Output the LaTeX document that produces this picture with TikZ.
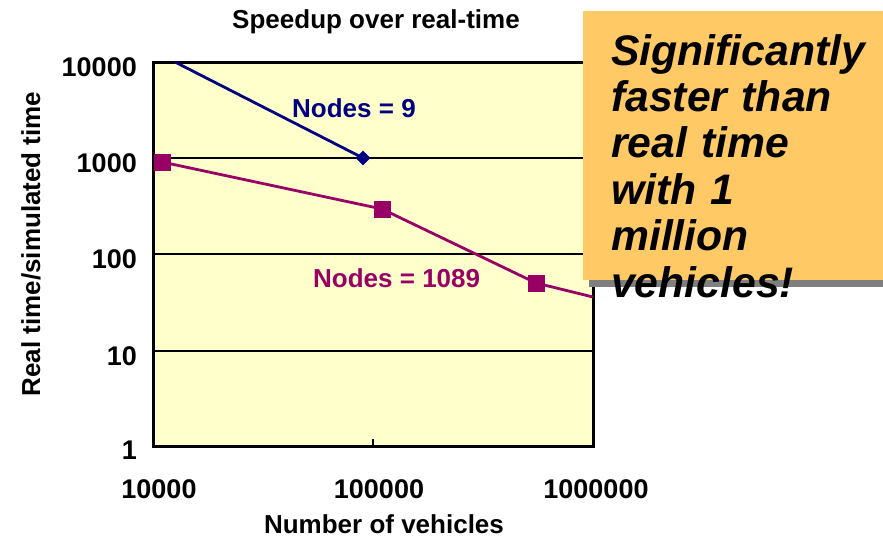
\documentclass[tikz,border=0pt]{standalone}
\usepackage{fontspec}
\setmainfont{Liberation Sans}
\usetikzlibrary{shapes.geometric}
\definecolor{plotbg}{HTML}{FFFFCC}
\definecolor{navyline}{HTML}{000080}
\definecolor{plum}{HTML}{990066}
\definecolor{callout}{HTML}{FFC966}
\definecolor{shadowgray}{HTML}{7F7F7F}
\tikzset{
  lbl/.style={font=\fontsize{26}{30}\selectfont\bfseries, inner sep=0pt},
  ticklbl/.style={font=\fontsize{27}{30}\selectfont\bfseries, inner sep=0pt},
  gridln/.style={line width=2.5pt, black},
  frameln/.style={line width=3pt, black},
  navyser/.style={line width=2.8pt, navyline},
  plumser/.style={line width=2.8pt, plum},
  diamark/.style={diamond, fill=navyline, minimum size=15pt, inner sep=0pt},
  sqmark/.style={rectangle, fill=plum, minimum size=17pt, inner sep=0pt},
  callbox/.style={fill=callout},
  callshadow/.style={fill=shadowgray},
  calltext/.style={font=\fontsize{42.7}{46.4}\selectfont\bfseries\itshape, inner sep=0pt, align=left, text width=265pt}
}
\begin{document}
\begin{tikzpicture}[x=1pt,y=-1pt]
\useasboundingbox (0,0) rectangle (883,538);
% plot area
\fill[plotbg] (153,62) rectangle (593,446);
\foreach \yy in {158,254,351} \draw[gridln] (153,\yy) -- (593,\yy);
\draw[line width=2.2pt] (373,446) -- (373,439);
\draw[frameln] (153,62) rectangle (593,446);
% series Nodes = 9
\coordinate (b0) at (175,62);
\coordinate (b1) at (363,158);
\draw[navyser] (b0) -- (b1);
\node[diamark] (bm1) at (b1) {};
% series Nodes = 1089
\coordinate (r1) at (162,162);
\coordinate (r2) at (382,209);
\coordinate (r3) at (536,283);
\coordinate (r4) at (593,297);
\draw[plumser] (r1) -- (r2) -- (r3) -- (r4);
\node[sqmark] (rm1) at (r1) {};
\node[sqmark] (rm2) at (r2) {};
\node[sqmark] (rm3) at (r3) {};
% series labels
\node[lbl, text=navyline, anchor=base west] (lb9) at (292,117) {Nodes = 9};
\node[lbl, text=plum, anchor=base west] (lb1089) at (313,287) {Nodes = 1089};
% title and axis titles
\node[lbl, anchor=base] (title) at (376,28) {Speedup over real-time};
\node[lbl, anchor=base, rotate=90] (ytitle) at (40,244) {Real time/simulated time};
\node[lbl, anchor=base] (xtitle) at (384,533) {Number of vehicles};
% y tick labels
\node[ticklbl, anchor=east] (y4) at (137,67) {10000};
\node[ticklbl, anchor=east] (y3) at (137,163) {1000};
\node[ticklbl, anchor=east] (y2) at (137,259) {100};
\node[ticklbl, anchor=east] (y1) at (137,356) {10};
\node[ticklbl, anchor=east] (y0) at (137,450) {1};
% x tick labels
\node[ticklbl, anchor=base] (x4) at (159,498) {10000};
\node[ticklbl, anchor=base] (x5) at (379,498) {100000};
\node[ticklbl, anchor=base] (x6) at (596,498) {1000000};
% callout
\fill[callshadow] (589,17) rectangle (883,287);
\fill[callbox] (583,11) rectangle (883,280);
\node[calltext, anchor=base west] (callt) at (611,65) {Significantly\\faster than\\real time\\with 1\\million\\vehicles!};
\end{tikzpicture}
\end{document}
